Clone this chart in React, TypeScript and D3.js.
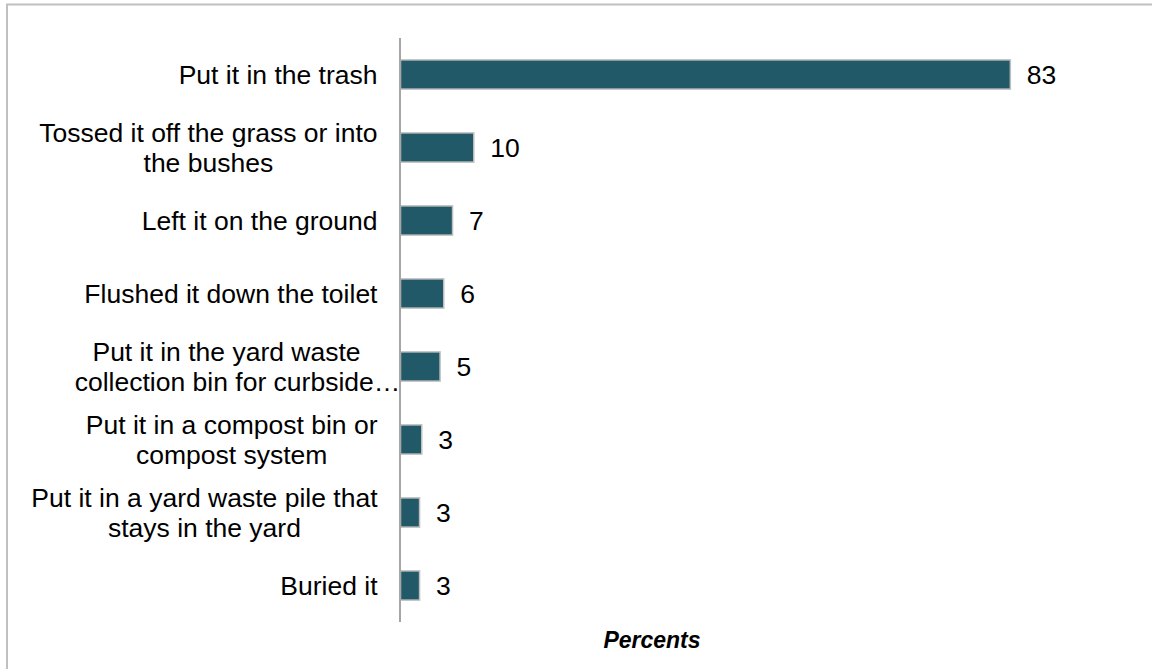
import React from "react";
import * as d3 from "d3";

const categories: string[][] = [
  ["Put it in the trash"],
  ["Tossed it off the grass or into", "the bushes"],
  ["Left it on the ground"],
  ["Flushed it down the toilet"],
  ["Put it in the yard waste", "collection bin for curbside…"],
  ["Put it in a compost bin or", "compost system"],
  ["Put it in a yard waste pile that", "stays in the yard"],
  ["Buried it"],
];
const values: number[] = [83.2, 10.0, 7.1, 5.9, 5.4, 2.9, 2.6, 2.6];
const axisTitle = "Percents";

const W = 1152;
const H = 669;
const FONT = "'Liberation Sans', Arial, Helvetica, sans-serif";
const FS = 26.5;
const LINE_H = 30.5;
const LABEL_RIGHT = 377.5;

let ctx: CanvasRenderingContext2D | null = null;
function measure(t: string): number {
  if (!ctx) {
    const c = document.createElement("canvas");
    ctx = c.getContext("2d");
  }
  if (!ctx) return t.length * FS * 0.5;
  ctx.font = `${FS}px 'Liberation Sans', Arial`;
  return ctx.measureText(t).width;
}

export default function App() {
  const keys = categories.map((c, i) => String(i));
  const y = d3.scaleBand<string>().domain(keys).range([38, 622]).paddingInner(0.6).paddingOuter(0.3);
  const x = d3.scaleLinear().domain([0, 100]).range([400, 1133]);
  const bw = y.bandwidth();

  return (
    <svg
      width={W}
      height={H}
      style={{ position: "absolute", left: 0, top: 0, background: "#fff" }}
      fontFamily={FONT}
    >
      <rect x={0} y={0} width={W} height={H} fill="#fff" />
      {/* outer frame (top & left visible) */}
      <line x1={6} y1={4.5} x2={W} y2={4.5} stroke="#c0c0c0" strokeWidth={2} />
      <line x1={7} y1={4} x2={7} y2={H} stroke="#c0c0c0" strokeWidth={2} />

      {values.map((v, i) => {
        const y0 = y(String(i)) as number;
        return (
          <g key={i}>
            <rect
              x={x(0) + 0.5}
              y={y0}
              width={x(v) - x(0)}
              height={bw}
              fill="#215968"
              stroke="#bfbfbf"
              strokeWidth={1.5}
            />
            <text x={x(v) + 17} y={y0 + bw / 2} dy="0.35em" fontSize={FS} fill="#000">
              {Math.round(v)}
            </text>
          </g>
        );
      })}

      {categories.map((lines, i) => {
        const cy = (y(String(i)) as number) + bw / 2;
        if (lines.length === 1) {
          return (
            <text key={i} x={LABEL_RIGHT} y={cy} dy="0.35em" textAnchor="end" fontSize={FS} fill="#000">
              {lines[0]}
            </text>
          );
        }
        const widths = lines.map(measure);
        const maxW = Math.max(...widths);
        let centers = lines.map(() => LABEL_RIGHT - maxW / 2);
        if (lines[1].endsWith("…")) {
          centers = [LABEL_RIGHT - 151, LABEL_RIGHT - 140];
        }
        return (
          <g key={i}>
            {lines.map((l, j) => (
              <text
                key={j}
                x={centers[j]}
                y={cy + (j - (lines.length - 1) / 2) * LINE_H}
                dy="0.35em"
                textAnchor="middle"
                fontSize={FS}
                fill="#000"
              >
                {l}
              </text>
            ))}
          </g>
        );
      })}

      <line x1={400} y1={38} x2={400} y2={622} stroke="#a6a6a6" strokeWidth={2} />

      <text
        x={652}
        y={648}
        textAnchor="middle"
        fontSize={23}
        fontWeight="bold"
        fontStyle="italic"
        fill="#000"
      >
        {axisTitle}
      </text>
    </svg>
  );
}
